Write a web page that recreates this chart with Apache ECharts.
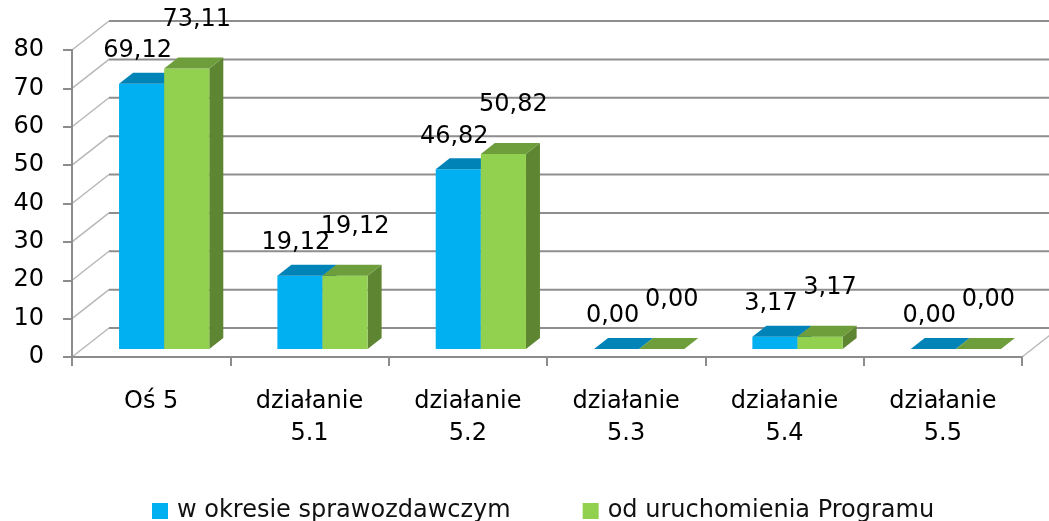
<!DOCTYPE html>
<html lang="pl">
<head>
    <meta charset="UTF-8">
    <title>Oś 5 - działania</title>
    <script src="https://cdn.jsdelivr.net/npm/echarts@6/dist/echarts.min.js"></script>
    <style>
        html, body { margin: 0; padding: 0; background: #fff; }
        #chart { width: 1049px; height: 521px; }
    </style>
</head>
<body>
    <div id="chart"></div>
    <script>
        var kategorie = ['Oś 5', 'działanie\n5.1', 'działanie\n5.2', 'działanie\n5.3', 'działanie\n5.4', 'działanie\n5.5'];
        var okres = [69.12, 19.12, 46.82, 0, 3.17, 0];
        var odUruchomienia = [73.11, 19.12, 50.82, 0, 3.17, 0];
        var yTicks = [0, 10, 20, 30, 40, 50, 60, 70, 80];

        var FONT = 'DejaVu Sans';
        // oblique "3D" look
        var WALL_DX = 37, WALL_DY = -29;   // back wall offset
        var BAR_SHIFT = 13, BAR_LIFT = -8; // bar front face inside the floor
        var DEPTH_DX = 14, DEPTH_DY = -11; // bar depth
        var colors = [
            { front: '#00B0F0', top: '#0083B7', side: '#00709c', lx: -4, ly: -33 },
            { front: '#92D050', top: '#6E9E3C', side: '#5E8531', lx: 10, ly: -49 }
        ];

        var chart = echarts.init(document.getElementById('chart'));

        function fmt(v) {
            return v.toFixed(2).replace('.', ',');
        }

        function barRenderer(idx) {
            return function (params, api) {
                var cat = api.value(0), val = api.value(1);
                var base = api.coord([cat, 0]);
                var top = api.coord([cat, val]);
                var band = api.size([1, 0])[0];
                var bw = band * 0.285;
                var x0 = base[0] + BAR_SHIFT - bw + idx * bw;
                var yb = base[1] + BAR_LIFT;
                var yt = top[1] + BAR_LIFT;
                var c = colors[idx];
                var children = [];
                children.push({
                    type: 'polygon',
                    shape: { points: [[x0 + bw, yt], [x0 + bw + DEPTH_DX, yt + DEPTH_DY], [x0 + bw + DEPTH_DX, yb + DEPTH_DY], [x0 + bw, yb]] },
                    style: { fill: c.side }
                });
                if (yb - yt > 0.5) {
                    children.push({
                        type: 'rect',
                        shape: { x: x0, y: yt, width: bw, height: yb - yt },
                        style: { fill: c.front }
                    });
                }
                children.push({
                    type: 'polygon',
                    shape: { points: [[x0, yt], [x0 + bw, yt], [x0 + bw + DEPTH_DX, yt + DEPTH_DY], [x0 + DEPTH_DX, yt + DEPTH_DY]] },
                    style: { fill: c.top }
                });
                children.push({
                    type: 'text',
                    z2: 10,
                    style: {
                        x: x0 + bw / 2 + c.lx,
                        y: yt + c.ly,
                        text: fmt(val),
                        align: 'center',
                        verticalAlign: 'middle',
                        fill: '#000',
                        font: '24px "' + FONT + '"'
                    }
                });
                return { type: 'group', children: children };
            };
        }

        function wallRenderer(params, api) {
            var cs = params.coordSys;
            var L = cs.x, R = cs.x + cs.width;
            var v = api.value(0);
            var y = api.coord([0, v])[1];
            var children = [
                {
                    type: 'line',
                    shape: { x1: L, y1: y, x2: L + WALL_DX, y2: y + WALL_DY },
                    style: { stroke: '#b8b8b8', lineWidth: 1.5 }
                },
                {
                    type: 'line',
                    shape: { x1: L + WALL_DX, y1: y + WALL_DY, x2: R + WALL_DX, y2: y + WALL_DY },
                    style: { stroke: '#8e8e8e', lineWidth: 2 }
                }
            ];
            if (v === yTicks[0]) {
                children.push({
                    type: 'line',
                    shape: { x1: R, y1: y, x2: R + WALL_DX, y2: y + WALL_DY },
                    style: { stroke: '#b8b8b8', lineWidth: 1.5 }
                });
            }
            return { type: 'group', children: children };
        }

        var option = {
            animation: false,
            backgroundColor: '#fff',
            grid: { left: 72, right: 27, top: 50, bottom: 164 },
            legend: {
                data: ['w okresie sprawozdawczym', 'od uruchomienia Programu'],
                left: 147,
                top: 494,
                icon: 'rect',
                itemWidth: 16,
                itemHeight: 16,
                itemGap: 72,
                textStyle: { fontFamily: FONT, fontSize: 24, color: '#111', padding: [0, 0, 0, 4] }
            },
            xAxis: {
                type: 'category',
                data: kategorie,
                axisLine: { lineStyle: { color: '#8c8c8c', width: 2 } },
                axisTick: { show: true, length: 9, lineStyle: { color: '#8c8c8c', width: 2 } },
                axisLabel: { interval: 0, fontFamily: FONT, fontSize: 24, lineHeight: 32, margin: 29, color: '#000' },
                splitLine: { show: false }
            },
            yAxis: {
                type: 'value',
                min: 0,
                max: 80,
                interval: 10,
                axisLine: { show: true, lineStyle: { color: '#8c8c8c', width: 2 } },
                axisTick: { show: true, length: 9, lineStyle: { color: '#8c8c8c', width: 2 } },
                axisLabel: { fontFamily: FONT, fontSize: 24, margin: 28, color: '#000', padding: [5, 0, 0, 0] },
                splitLine: { show: false }
            },
            series: [
                {
                    name: 'walls',
                    type: 'custom',
                    renderItem: wallRenderer,
                    data: yTicks.map(function (v) { return [v]; }),
                    encode: { y: 0 },
                    clip: false,
                    silent: true,
                    z: 0
                },
                {
                    name: 'w okresie sprawozdawczym',
                    type: 'custom',
                    renderItem: barRenderer(0),
                    data: okres.map(function (v, i) { return [i, v]; }),
                    encode: { x: 0, y: 1 },
                    itemStyle: { color: colors[0].front },
                    clip: false,
                    z: 2
                },
                {
                    name: 'od uruchomienia Programu',
                    type: 'custom',
                    renderItem: barRenderer(1),
                    data: odUruchomienia.map(function (v, i) { return [i, v]; }),
                    encode: { x: 0, y: 1 },
                    itemStyle: { color: colors[1].front },
                    clip: false,
                    z: 3
                }
            ]
        };

        chart.setOption(option);
    </script>
</body>
</html>
